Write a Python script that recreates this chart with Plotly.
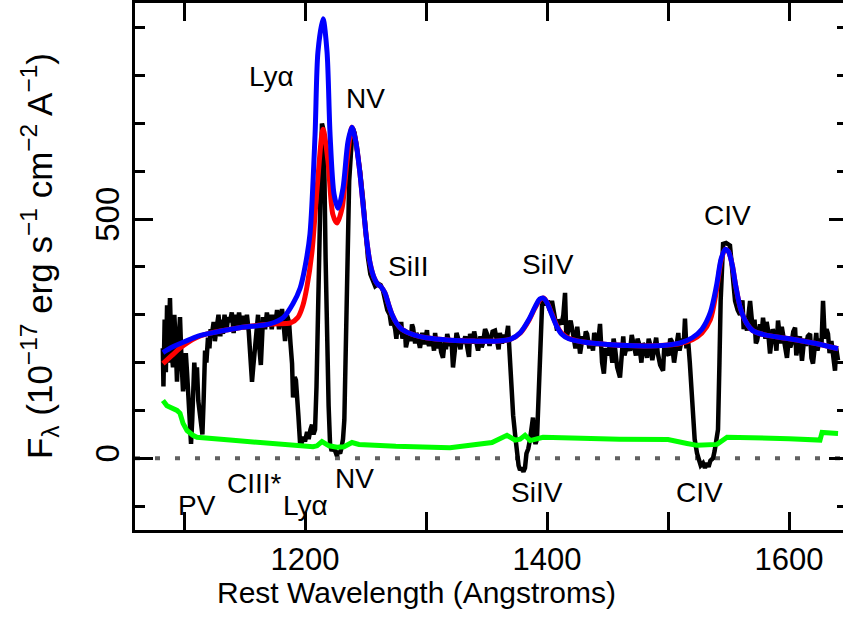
import plotly.graph_objects as go

# Observed spectrum (rest wavelength in Angstroms, flux in 1e-17 erg/s/cm^2/A)
obs_wave = [
    1082.5, 1083.0, 1084.0, 1085.0, 1086.0, 1087.0, 1088.4, 1089.5, 1090.9, 1092.0,
    1093.0, 1094.2, 1095.5, 1096.7, 1098.0, 1099.2, 1100.5, 1101.5, 1102.5, 1104.0,
    1105.0, 1105.8, 1106.8, 1107.4, 1108.5, 1109.5, 1110.7, 1111.8, 1113.2, 1114.2,
    1115.2, 1116.2, 1117.4, 1118.5, 1119.8, 1121.0, 1122.0, 1123.1, 1124.5, 1125.5,
    1127.3, 1128.5, 1130.0, 1131.0, 1132.2, 1133.5, 1135.0, 1136.5, 1138.0, 1139.5,
    1141.0, 1142.5, 1143.8, 1145.5, 1147.0, 1148.8, 1150.5, 1152.0, 1153.5, 1155.0,
    1156.2, 1157.2, 1158.7, 1160.0, 1161.2, 1162.3, 1163.5, 1164.5, 1165.3, 1167.0,
    1168.5, 1170.0, 1171.1, 1172.5, 1174.0, 1175.5, 1176.9, 1178.5, 1180.0, 1181.0,
    1182.5, 1183.5, 1185.0, 1186.8, 1188.0, 1189.3, 1190.1, 1191.5, 1192.5, 1193.4,
    1194.5, 1195.9, 1197.0, 1198.5, 1200.0, 1201.7, 1203.0, 1204.5, 1205.8, 1207.0,
    1208.3, 1209.5, 1210.7, 1212.0, 1213.2, 1214.0, 1215.0, 1216.0, 1217.0, 1218.2,
    1219.5, 1220.7, 1222.0, 1223.5, 1225.0, 1226.4, 1227.5, 1229.0, 1230.0, 1231.4,
    1232.5, 1233.5, 1234.5, 1235.5, 1236.5, 1238.0, 1239.5, 1241.0, 1243.0, 1245.5,
    1248.0, 1250.0, 1252.0, 1254.0, 1256.2, 1258.0, 1260.5, 1262.5, 1264.5, 1266.0,
    1268.0, 1270.0, 1271.3, 1272.7, 1274.5, 1275.5, 1276.5, 1278.5, 1279.5, 1280.5,
    1282.5, 1283.4, 1284.3, 1286.0, 1287.5, 1288.4, 1289.3, 1291.0, 1292.0, 1293.0,
    1295.0, 1296.0, 1297.0, 1298.8, 1300.8, 1301.6, 1302.5, 1304.0, 1305.8, 1306.6,
    1307.5, 1309.0, 1311.0, 1312.5, 1314.0, 1315.5, 1316.5, 1317.5, 1319.8, 1321.0,
    1322.3, 1324.0, 1325.2, 1326.4, 1328.5, 1329.5, 1330.6, 1332.5, 1334.5, 1335.5,
    1336.4, 1338.5, 1339.8, 1341.0, 1343.0, 1345.0, 1346.0, 1347.0, 1348.8, 1350.4,
    1352.5, 1353.8, 1355.0, 1357.0, 1359.0, 1360.0, 1361.0, 1362.8, 1364.5, 1366.0,
    1367.8, 1369.0, 1370.5, 1372.0, 1373.6, 1375.0, 1376.5, 1377.7, 1379.0, 1380.5,
    1381.8, 1383.0, 1384.5, 1386.0, 1387.0, 1388.4, 1389.5, 1390.5, 1391.7, 1393.0,
    1394.5, 1395.9, 1397.5, 1399.0, 1400.5, 1402.0, 1404.1, 1406.0, 1408.3, 1410.0,
    1412.0, 1413.5, 1414.9, 1416.0, 1417.5, 1419.5, 1421.5, 1422.5, 1423.5, 1425.0,
    1426.2, 1427.3, 1429.5, 1431.0, 1432.0, 1433.1, 1435.0, 1436.5, 1438.0, 1439.0,
    1440.0, 1442.0, 1443.8, 1445.5, 1447.0, 1448.5, 1450.5, 1452.1, 1454.0, 1455.0,
    1456.0, 1458.0, 1460.3, 1462.0, 1463.0, 1464.0, 1466.5, 1468.6, 1470.0, 1471.0,
    1473.5, 1474.8, 1476.0, 1478.0, 1479.2, 1480.5, 1482.6, 1484.0, 1485.0, 1487.0,
    1489.0, 1490.2, 1491.5, 1493.5, 1495.9, 1497.0, 1498.0, 1500.5, 1501.8, 1503.0,
    1505.0, 1507.4, 1508.5, 1509.5, 1511.5, 1513.0, 1514.0, 1515.2, 1516.5, 1518.0,
    1519.5, 1520.7, 1522.0, 1524.0, 1525.5, 1527.0, 1528.9, 1530.5, 1532.0, 1533.5,
    1535.0, 1537.2, 1538.5, 1539.5, 1541.3, 1542.5, 1543.5, 1545.5, 1548.0, 1551.2,
    1553.0, 1555.4, 1557.5, 1559.5, 1561.5, 1562.5, 1563.5, 1565.3, 1566.5, 1567.8,
    1570.0, 1571.5, 1572.6, 1573.6, 1576.0, 1577.2, 1578.5, 1580.5, 1581.5, 1582.5,
    1584.3, 1585.5, 1586.5, 1588.5, 1589.6, 1590.9, 1593.0, 1594.0, 1595.0, 1596.5,
    1598.3, 1600.0, 1601.0, 1602.0, 1603.5, 1605.0, 1606.0, 1607.0, 1609.0, 1610.7,
    1612.5, 1614.0, 1615.5, 1617.4, 1618.5, 1619.8, 1621.5, 1622.5, 1623.5, 1625.5,
    1626.8, 1628.1, 1629.5, 1631.0, 1632.2, 1633.5, 1635.0, 1636.5, 1638.0, 1639.0,
    1640.5,
]
obs_flux = [
    230, 150, 290, 180, 320, 200, 335, 230, 190, 300,
    250, 160, 240, 295, 200, 140, 170, 220, 180, 110,
    60, 30, 80, 140, 200, 160, 190, 120, 90, 55,
    50, 120, 225, 200, 252, 230, 270, 260, 285, 245,
    281, 300, 255, 290, 260, 300, 265, 295, 285, 305,
    262, 300, 270, 305, 275, 298, 270, 300, 265, 200,
    160, 190, 240, 285, 300, 230, 195, 250, 295, 270,
    305, 275, 300, 270, 300, 280, 310, 270, 305, 312,
    275, 245, 300, 285, 240, 198, 127, 170, 163, 140,
    90, 32, 30, 45, 35, 55, 40, 60, 70, 50,
    60, 150, 300, 520, 660, 700, 690, 600, 420, 250,
    110, 30, 15, 25, 10, 5, 15, 10, 20, 40,
    80, 200, 350, 480, 580, 640, 690, 680, 645, 600,
    540, 470, 420, 385, 372, 360, 365, 362, 350, 335,
    310, 300, 278, 288, 270, 250, 280, 260, 285, 250,
    270, 232, 240, 262, 245, 280, 273, 240, 262, 255,
    231, 250, 262, 238, 268, 242, 235, 255, 240, 225,
    262, 230, 250, 222, 210, 245, 228, 260, 235, 250,
    190, 230, 262, 252, 228, 250, 240, 255, 232, 212,
    260, 240, 265, 250, 225, 255, 232, 240, 270, 260,
    235, 250, 265, 267, 245, 228, 262, 240, 258, 245,
    277, 220, 150, 90, 50, 5, -15, -25, -20, -28,
    -20, 10, 20, 40, 70, 85, 40, 30, 40, 150,
    270, 320, 335, 320, 330, 310, 329, 300, 267, 290,
    280, 300, 346, 250, 270, 288, 260, 240, 230, 275,
    250, 219, 255, 240, 265, 260, 230, 245, 225, 262,
    255, 235, 281, 200, 177, 230, 215, 240, 200, 250,
    235, 190, 169, 230, 255, 215, 240, 225, 258, 245,
    215, 250, 240, 200, 240, 235, 210, 250, 240, 205,
    230, 252, 220, 195, 183, 240, 225, 215, 250, 245,
    200, 245, 262, 225, 250, 240, 292, 230, 250, 200,
    150, 94, 40, 10, -5, -15, -10, -20, -10, -18,
    -5, 0, 15, 30, 60, 200, 330, 448, 450, 445,
    400, 329, 310, 300, 330, 270, 290, 267, 300, 329,
    270, 290, 240, 246, 280, 255, 294, 250, 285, 270,
    219, 262, 270, 250, 225, 288, 240, 275, 260, 230,
    210, 255, 232, 240, 265, 273, 215, 230, 255, 204,
    250, 235, 255, 260, 210, 198, 245, 262, 225, 250,
    235, 329, 250, 270, 260, 220, 245, 200, 183, 230,
    205,
]

# Model fit without the Lya absorption correction (red)
red_wave = [1082.6, 1090, 1097, 1110, 1119, 1146, 1173, 1188, 1194, 1198.3, 1201.7,
            1205.8, 1210, 1214.9, 1219, 1223, 1226.4, 1230.6, 1234.7, 1238.8, 1242,
            1245, 1248, 1251, 1254, 1257, 1260, 1263, 1266, 1269, 1272, 1276, 1280,
            1290, 1300, 1320, 1340, 1360, 1370, 1378, 1385, 1390, 1394, 1397, 1400,
            1404, 1408, 1412, 1418, 1430, 1450, 1480, 1500, 1510, 1520, 1528, 1535,
            1540, 1544, 1547.5, 1550, 1553, 1556, 1560, 1565, 1570, 1580, 1600,
            1620, 1640.5]
red_flux = [198, 215, 231, 252, 260, 273, 281, 283, 294, 320, 360,
            433, 565, 688, 621, 510, 492, 523, 621, 692, 662,
            605, 530, 455, 405, 378, 364, 358, 346, 322, 300, 281, 270,
            258, 252, 247, 245, 245, 249, 262, 288, 314, 331, 335, 326,
            302, 278, 262, 251, 243, 238, 235, 237, 240, 248, 262, 290,
            350, 415, 437, 432, 405, 360, 312, 282, 267, 258, 250,
            241, 229]

# Model fit including broad Lya emission (blue)
blue_wave = [1082.6, 1090, 1097, 1110, 1119, 1146, 1171, 1182, 1190, 1196, 1200,
             1204.1, 1208.3, 1210.7, 1214.9, 1218.2, 1220.7, 1224, 1227.3, 1231.4,
             1235.5, 1238.8, 1242, 1245, 1248, 1251, 1254, 1257, 1260, 1263, 1266,
             1269, 1272, 1276, 1280, 1290, 1300, 1320, 1340, 1360, 1370, 1378, 1385,
             1390, 1394, 1397, 1400, 1404, 1408, 1412, 1418, 1430, 1450, 1480, 1500,
             1510, 1520, 1528, 1535, 1540, 1544, 1547.5, 1550, 1553, 1556, 1560,
             1565, 1570, 1580, 1600, 1620, 1640.5]
blue_flux = [221, 232, 240, 254, 260, 273, 281, 294, 323, 356, 400,
             469, 677, 850, 919, 850, 677, 552, 523, 565,
             662, 692, 662, 605, 530, 455, 405, 378, 364, 358, 346,
             322, 300, 281, 270, 258, 252, 247, 245, 245, 249, 263, 290,
             316, 333, 335, 325, 300, 276, 260, 250, 243, 238, 235, 237,
             241, 252, 270, 305, 360, 418, 437, 432, 405, 360, 312,
             282, 267, 258, 250, 241, 229]

# 1-sigma error spectrum (green)
err_wave = [1082.6, 1085.9, 1094.2, 1096.7, 1099.2, 1102.5, 1107.4, 1110.7, 1138.0,
            1171.1, 1193.4, 1206.6, 1209.9, 1214.0, 1219.9, 1226.4, 1232.2, 1238.8,
            1244.6, 1275.0, 1319.8, 1344.6, 1354.5, 1366.9, 1370.2, 1373.6, 1377.7,
            1381.8, 1386.0, 1396.7, 1460.0, 1500.0, 1515.7, 1524.0, 1540.5, 1548.8,
            1600.0, 1625.6, 1627.3, 1640.5]
err_flux = [121, 110, 100, 94, 73, 58, 48, 44, 38,
            31, 25, 24, 26, 35, 26, 23, 24, 33,
            29, 25, 22, 29, 33, 48, 44, 38, 40,
            48, 37, 44, 40, 39, 31, 27, 29, 44,
            41, 38, 54, 52]

# Line identifications: emission (above) and absorption (below)
emis_labels = ["Lyα", "NV", "SiII", "SiIV", "CIV"]
emis_wave = [1172.7, 1249.6, 1285.0, 1401.0, 1548.8]
emis_flux = [798, 752, 402, 406, 508]

abs_labels = ["PV", "CIII*", "Lyα", "NV", "SiIV", "CIV"]
abs_wave = [1110.7, 1157.9, 1200.8, 1241.3, 1391.7, 1526.4]
abs_flux = [-98, -52, -98, -42, -71, -71]

x_range = [1059.5, 1644.6]
y_range = [-150, 952]
y_major = [0, 500]
y_minor = [-100, 100, 200, 300, 400, 600, 700, 800, 900]
x_major = [1200, 1400, 1600]
x_minor = [1100, 1300, 1500]

FONT = "Liberation Sans, Arial, sans-serif"

fig = go.Figure()
fig.add_trace(go.Scatter(x=obs_wave, y=obs_flux, mode="lines",
                         line=dict(color="black", width=4.5), showlegend=False))
fig.add_trace(go.Scatter(x=err_wave, y=err_flux, mode="lines",
                         line=dict(color="#00ff00", width=5), showlegend=False))
fig.add_trace(go.Scatter(x=red_wave, y=red_flux, mode="lines",
                         line=dict(color="#ff0000", width=5, shape="spline", smoothing=0.8),
                         showlegend=False))
# blue model is plotted against the right-hand (tick-only) axis, which shares the range
fig.add_trace(go.Scatter(x=blue_wave, y=blue_flux, mode="lines", yaxis="y2",
                         line=dict(color="#0000ff", width=5, shape="spline", smoothing=0.8),
                         showlegend=False))

# zero-flux reference
fig.add_shape(type="line", xref="paper", x0=0, x1=1, yref="y", y0=0, y1=0,
              line=dict(color="#606060", width=4, dash="5px,15px"), layer="below")

for txt, xv, yv in zip(emis_labels, emis_wave, emis_flux):
    fig.add_annotation(x=xv, y=yv, text=txt, showarrow=False,
                       font=dict(family=FONT, size=28, color="black"))
for txt, xv, yv in zip(abs_labels, abs_wave, abs_flux):
    fig.add_annotation(x=xv, y=yv, text=txt, showarrow=False,
                       font=dict(family=FONT, size=28, color="black"))

# axis titles
fig.add_annotation(xref="paper", yref="paper", x=0.397, y=-0.119,
                   text="Rest Wavelength (Angstroms)", showarrow=False,
                   xanchor="center", yanchor="middle",
                   font=dict(family=FONT, size=30, color="black"))
fig.add_annotation(xref="paper", yref="paper", x=-0.134, y=0.52, textangle=-90,
                   text="F<sub>λ</sub> (10<sup>−17</sup> erg s<sup>−1</sup> cm<sup>−2</sup> A<sup>−1</sup>)",
                   showarrow=False, xanchor="center", yanchor="middle",
                   font=dict(family=FONT, size=35, color="black"))

fig.update_layout(
    width=843, height=630,
    margin=dict(l=135, r=0, t=1, b=100),
    plot_bgcolor="white", paper_bgcolor="white",
    font=dict(family=FONT, color="black"),
    xaxis=dict(
        range=x_range, showgrid=False, zeroline=False,
        showline=True, linecolor="black", linewidth=3, mirror="allticks",
        ticks="inside", ticklen=18, tickwidth=3, tickcolor="black",
        tickvals=x_major, ticktext=[str(v) for v in x_major],
        tickfont=dict(family=FONT, size=31),
        minor=dict(tickvals=x_minor, ticks="inside", ticklen=10,
                   tickwidth=3, tickcolor="black"),
    ),
    yaxis=dict(
        range=y_range, showgrid=False, zeroline=False,
        showline=True, linecolor="black", linewidth=3, mirror=False,
        ticks="inside", ticklen=18, tickwidth=3, tickcolor="black",
        tickvals=y_major, ticktext=[str(v) for v in y_major], tickangle=-90,
        tickfont=dict(family=FONT, size=33),
        minor=dict(tickvals=y_minor, ticks="inside", ticklen=10,
                   tickwidth=3, tickcolor="black"),
    ),
    yaxis2=dict(
        range=y_range, overlaying="y", side="right", anchor="x",
        showgrid=False, zeroline=False, showline=False, showticklabels=False,
        ticks="inside", ticklen=14, tickwidth=3, tickcolor="black",
        tickvals=y_major,
        minor=dict(tickvals=y_minor, ticks="inside", ticklen=6,
                   tickwidth=3, tickcolor="black"),
    ),
)

fig.write_html("out.html")
